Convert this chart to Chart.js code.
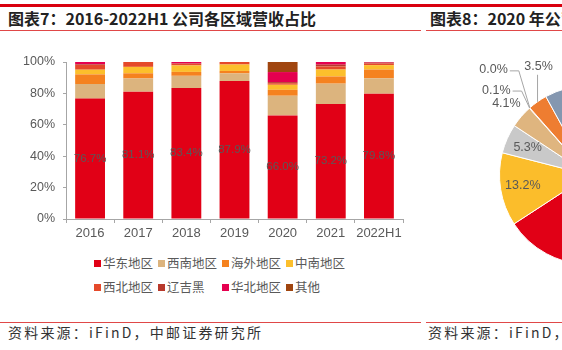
<!DOCTYPE html>
<html>
<head>
<meta charset="utf-8">
<script src="https://cdn.jsdelivr.net/npm/chart.js@4.4.0/dist/chart.umd.min.js"></script>
<style>
  html, body { margin:0; padding:0; background:#fff; }
  body { width:562px; height:350px; position:relative; overflow:hidden; }
  .line { position:absolute; background:#d9000f; }
  .title { position:absolute; font-family:"Noto Sans CJK SC"; font-weight:bold; font-size:16px; line-height:16px; color:#222; white-space:nowrap; }
  .foot { position:absolute; font-family:"Noto Sans CJK SC"; font-size:14px; line-height:14px; color:#333; white-space:nowrap; letter-spacing:2.2px; }
  #barWrap { position:absolute; left:0; top:40px; width:410px; height:210px; }
  #pieWrap { position:absolute; left:430px; top:55px; width:318px; height:240px; }
  #legend { position:absolute; left:94px; top:255px; display:grid; grid-template-columns:64px 64px 64px 64px; row-gap:8px; font-family:"Noto Sans CJK SC"; font-size:12.5px; line-height:16px; color:#595959; }
  #legend .it { display:flex; align-items:center; white-space:nowrap; }
  #legend .bx { width:7px; height:7px; margin-right:2px; flex:none; }
</style>
</head>
<body>
<div class="line" style="left:0;top:4px;width:562px;height:3px;"></div>
<div class="title" style="left:8px;top:10px;">图表7：2016-2022H1 公司各区域营收占比</div>
<div class="title" style="left:430px;top:10px;">图表8：2020 年公司</div>
<div class="line" style="left:0;top:30px;width:421px;height:1px;background:#e04848;"></div>
<div class="line" style="left:426px;top:30px;width:136px;height:1px;background:#e04848;"></div>

<div id="barWrap"><canvas id="bar" width="410" height="210"></canvas></div>
<div id="pieWrap"><canvas id="pie" width="318" height="240"></canvas></div>
<div id="legend"></div>

<div class="line" style="left:0;top:322px;width:421px;height:1px;background:#e04848;"></div>
<div class="line" style="left:426px;top:322px;width:136px;height:1px;background:#e04848;"></div>
<div class="foot" style="left:8px;top:325px;">资料来源：iFinD，中邮证券研究所</div>
<div class="foot" style="left:428px;top:325px;">资料来源：iFinD，</div>

<script>
// ---- data ----
const years = ['2016','2017','2018','2019','2020','2021','2022H1'];
const regionNames = ['华东地区','西南地区','海外地区','中南地区','西北地区','辽吉黑','华北地区','其他'];
const huadong  = [76.7, 81.1, 83.4, 87.9, 66.0, 73.2, 79.8];
const xinan    = [9.3, 8.4, 7.8, 4.8, 12.5, 13.0, 9.8];
const haiwai   = [6.1, 3.3, 2.5, 1.6, 3.8, 4.6, 5.6];
const zhongnan = [3.0, 4.1, 4.1, 4.1, 3.2, 4.4, 2.8];
const xibei    = [3.0, 3.1, 1.0, 1.6, 1.0, 2.0, 1.0];
const liaojihei= [0.4, 0.0, 0.2, 0.0, 0.7, 1.1, 0.6];
const huabei   = [1.5, 0.0, 1.0, 0.0, 6.4, 1.7, 0.4];
const qita     = [0.0, 0.0, 0.0, 0.0, 6.4, 0.0, 0.0];
const yTicks = [0, 20, 40, 60, 80, 100];

// pie (2020, partially visible)
const pieValues = [65.8, 13.2, 5.3, 4.1, 0.1, 0.0, 3.5, 8.0];
const pieLabels = ['', '13.2%', '5.3%', '4.1%', '0.1%', '0.0%', '3.5%', ''];

const colors = ['#e10016','#dcb47e','#f5821f','#fcbf2c','#e5492a','#b8392c','#e5004f','#a0450f'];
const pieColors = ['#e10016','#fbbd2b','#c9c9c9','#dfb57f','#b8392c','#e5004f','#ee7d31','#8497b0'];

const seriesArr = [huadong, xinan, haiwai, zhongnan, xibei, liaojihei, huabei, qita];

// legend (HTML)
const lg = document.getElementById('legend');
regionNames.forEach((n,i)=>{
  const d = document.createElement('div'); d.className='it';
  d.innerHTML = '<span class="bx" style="background:'+colors[i]+'"></span><span>'+n+'</span>';
  lg.appendChild(d);
});

const valueLabels = {
  id:'valueLabels',
  afterDatasetsDraw(chart){
    const ctx = chart.ctx;
    const meta = chart.getDatasetMeta(0);
    ctx.save();
    ctx.font = '11.5px "Liberation Sans", Arial, sans-serif';
    ctx.fillStyle = '#595959';
    ctx.textAlign = 'center'; ctx.textBaseline = 'middle';
    meta.data.forEach((el,i)=>{
      const p = el.getProps(['x','y','base'], true);
      ctx.fillText(huadong[i].toFixed(1)+'%', p.x, (p.y+p.base)/2);
    });
    ctx.restore();
  }
};

new Chart(document.getElementById('bar'), {
  type:'bar',
  data:{
    labels: years,
    datasets: seriesArr.map((s,i)=>({
      label: regionNames[i], data: s, backgroundColor: colors[i],
      borderWidth: 0, barPercentage: 0.62, categoryPercentage: 1
    }))
  },
  options:{
    responsive:false, animation:false,
    layout:{ padding:{ top:22, right:7, left:0, bottom:0 } },
    plugins:{ legend:{display:false}, tooltip:{enabled:false} },
    scales:{
      x:{
        stacked:true,
        grid:{ drawOnChartArea:false, drawTicks:true, tickLength:4, color:'#a6a6a6', offset:true },
        border:{ color:'#a6a6a6' },
        ticks:{ color:'#595959', font:{ family:'"Liberation Sans", Arial', size:13 }, padding:3, maxRotation:0, autoSkip:false },
        afterFit(s){ s.height = 31; }
      },
      y:{
        stacked:true, min:0, max:100,
        afterBuildTicks(s){ s.ticks = yTicks.map(v=>({value:v})); },
        grid:{ drawOnChartArea:false, drawTicks:true, tickLength:3, color:'#a6a6a6' },
        border:{ color:'#a6a6a6' },
        ticks:{ color:'#595959', font:{ family:'"Liberation Sans", Arial', size:12.5 }, padding:8, callback:v=>v+'%' },
        afterFit(s){ s.width = 66; }
      }
    }
  },
  plugins:[valueLabels]
});

const pieLabelPlugin = {
  id:'pieLabels',
  afterDatasetsDraw(chart){
    const ctx = chart.ctx;
    const meta = chart.getDatasetMeta(0);
    ctx.save();
    ctx.font = '12.5px "Liberation Sans", Arial, sans-serif';
    ctx.fillStyle = '#595959';
    ctx.strokeStyle = '#a6a6a6';
    ctx.lineWidth = 1;
    ctx.textBaseline = 'middle';
    meta.data.forEach((el,i)=>{
      const t = pieLabels[i]; if(!t) return;
      const p = el.getProps(['x','y','startAngle','endAngle','outerRadius'], true);
      const mid = (p.startAngle + p.endAngle)/2;
      const r = p.outerRadius;
      const ax = p.x + Math.cos(mid)*r, ay = p.y + Math.sin(mid)*r;
      if (i===1 || i===2) {
        ctx.textAlign='center';
        ctx.fillText(t, p.x + Math.cos(mid)*r*0.75, p.y + Math.sin(mid)*r*0.75);
      } else if (i===3) {
        ctx.textAlign='center';
        ctx.fillText(t, p.x + Math.cos(mid)*r*1.22, p.y + Math.sin(mid)*r*1.22);
      } else if (i===4 || i===5) {
        const dy = i===4 ? -17 : -37, dx = i===4 ? -8 : -11;
        const ex = ax+dx, ey = ay+dy;
        ctx.beginPath(); ctx.moveTo(ax,ay); ctx.lineTo(ex,ey); ctx.lineTo(ex-9,ey); ctx.stroke();
        ctx.textAlign='right';
        ctx.fillText(t, ex-11, ey-1);
      } else if (i===6) {
        ctx.beginPath(); ctx.moveTo(ax,ay); ctx.lineTo(ax,ay-27); ctx.stroke();
        ctx.textAlign='center';
        ctx.fillText(t, ax+1, ay-35);
      }
    });
    ctx.restore();
  }
};

new Chart(document.getElementById('pie'), {
  type:'pie',
  data:{ labels: pieLabels, datasets:[{ data: pieValues, backgroundColor: pieColors, borderColor:'#fff', borderWidth:1 }] },
  options:{
    responsive:false, animation:false,
    layout:{ padding:{ left:69, right:69, top:30, bottom:30 } },
    plugins:{ legend:{display:false}, tooltip:{enabled:false} }
  },
  plugins:[pieLabelPlugin]
});
</script>
</body>
</html>
